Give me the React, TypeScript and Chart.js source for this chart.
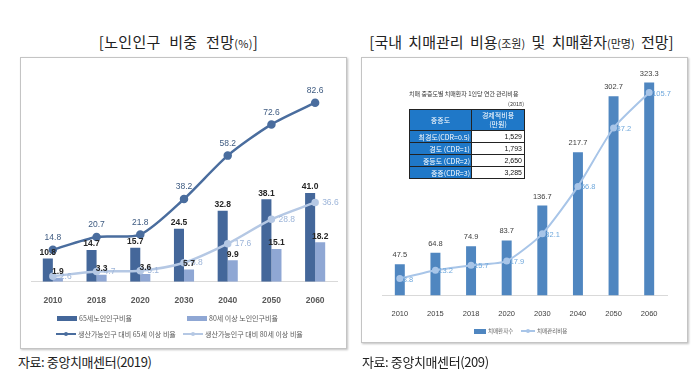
import React, { useEffect, useRef } from "react";
import { Chart, registerables } from "chart.js";

Chart.register(...registerables);

// ---------- Left chart data ----------
const leftYears = ["2010", "2018", "2020", "2030", "2040", "2050", "2060"];
const share65 = [10.8, 14.7, 15.7, 24.5, 32.8, 38.1, 41.0];
const share80 = [1.9, 3.3, 3.6, 5.7, 9.9, 15.1, 18.2];
const ratio65 = [14.8, 20.7, 21.8, 38.2, 58.2, 72.6, 82.6];
const ratio80 = [2.6, 4.7, 5.1, 8.8, 17.6, 28.8, 36.6];
const leftSeriesNames = [
  "65세노인인구비율",
  "80세 이상 노인인구비율",
  "생산가능인구 대비 65세 이상 비율",
  "생산가능인구 대비 80세 이상 비율",
];

// ---------- Right chart data ----------
const rightYears = ["2010", "2015", "2018", "2020", "2030", "2040", "2050", "2060"];
const patients = [47.5, 64.8, 74.9, 83.7, 136.7, 217.7, 302.7, 323.3];
const careCost = [8.8, 13.2, 15.7, 17.9, 32.1, 56.8, 87.2, 105.7];
const rightSeriesNames = ["치매환자수", "치매관리비용"];

// ---------- Inset table ----------
const tableCaption = "치매 중증도별 치매환자 1인당 연간 관리비용";
const tableYear = "(2018)";
const tableHeaders = ["중증도", "경제적비용", "(만원)"];
const severityLabels = ["최경도(CDR=0.5)", "경도 (CDR=1)", "중등도 (CDR=2)", "중증(CDR=3)"];
const severityCosts = ["1,529", "1,793", "2,650", "3,285"];

const KR = "'Noto Sans CJK KR', 'Noto Sans', sans-serif";
const NUM = "'Liberation Sans', 'DejaVu Sans', sans-serif";

const labelPlugin = {
  id: "valueLabels",
  afterDatasetsDraw(chart: any) {
    const ctx = chart.ctx;
    chart.data.datasets.forEach((ds: any, i: number) => {
      const cfg = ds.labelCfg;
      if (!cfg) return;
      const meta = chart.getDatasetMeta(i);
      ctx.save();
      ctx.font = cfg.font;
      ctx.fillStyle = cfg.color;
      ctx.textAlign = cfg.align;
      ctx.textBaseline = "middle";
      meta.data.forEach((el: any, j: number) => {
        const v = ds.data[j];
        ctx.fillText(Number(v).toFixed(1), el.x + cfg.dx, el.y + cfg.dy);
      });
      ctx.restore();
    });
  },
};

const C_DARK_BAR = "#44679a";
const C_LIGHT_BAR = "#8fa7d4";
const C_DARK_LINE = "#4a6d9e";
const C_LIGHT_LINE = "#b5c8e4";
const C_R_BAR = "#4f86c0";
const C_R_LINE = "#a8c5e8";

function LeftChart() {
  const ref = useRef<HTMLCanvasElement>(null);
  useEffect(() => {
    const chart = new Chart(ref.current!, {
      type: "bar",
      data: {
        labels: leftYears,
        datasets: [
          {
            type: "line",
            label: leftSeriesNames[2],
            data: ratio65,
            borderColor: C_DARK_LINE,
            backgroundColor: C_DARK_LINE,
            borderWidth: 2.5,
            pointRadius: 3,
            pointBackgroundColor: C_DARK_LINE,
            tension: 0.25,
            order: 0,
            labelCfg: { font: `8.5px ${NUM}`, color: "#3d5a80", align: "center", dx: 0, dy: -12 },
          } as any,
          {
            type: "line",
            label: leftSeriesNames[3],
            data: ratio80,
            borderColor: C_LIGHT_LINE,
            backgroundColor: C_LIGHT_LINE,
            borderWidth: 2.5,
            pointRadius: 2.5,
            pointBackgroundColor: C_LIGHT_LINE,
            tension: 0.3,
            order: 0,
            labelCfg: { font: `8.5px ${NUM}`, color: "#9db5d9", align: "left", dx: 7, dy: 0 },
          } as any,
          {
            type: "bar",
            label: leftSeriesNames[0],
            data: share65,
            backgroundColor: C_DARK_BAR,
            barPercentage: 1,
            categoryPercentage: 0.46,
            order: 1,
            labelCfg: { font: `bold 8.5px ${NUM}`, color: "#262626", align: "center", dx: 0, dy: -6 },
          } as any,
          {
            type: "bar",
            label: leftSeriesNames[1],
            data: share80,
            backgroundColor: C_LIGHT_BAR,
            barPercentage: 1,
            categoryPercentage: 0.46,
            order: 1,
            labelCfg: { font: `bold 8.5px ${NUM}`, color: "#262626", align: "center", dx: 0, dy: -6 },
          } as any,
        ],
      },
      options: {
        responsive: false,
        animation: false,
        devicePixelRatio: 1,
        layout: { padding: { left: 10, right: 9, top: 7, bottom: 5 } },
        plugins: { legend: { display: false }, tooltip: { enabled: false } },
        scales: {
          x: {
            offset: true,
            grid: { display: false },
            border: { display: true, color: "#d9d9d9" },
            ticks: { padding: 6, color: "#595959", font: { size: 8.5, weight: "bold", family: NUM } },
          },
          y: { display: false, min: 0, max: 100 },
        },
      },
      plugins: [labelPlugin],
    });
    return () => chart.destroy();
  }, []);
  return <canvas ref={ref} width={325} height={259} style={{ position: "absolute", left: 0, top: 0 }} />;
}

function RightChart() {
  const ref = useRef<HTMLCanvasElement>(null);
  useEffect(() => {
    const chart = new Chart(ref.current!, {
      type: "bar",
      data: {
        labels: rightYears,
        datasets: [
          {
            type: "line",
            label: rightSeriesNames[1],
            data: careCost,
            yAxisID: "y1",
            borderColor: C_R_LINE,
            backgroundColor: C_R_LINE,
            borderWidth: 2,
            pointRadius: 2.5,
            pointBackgroundColor: C_R_LINE,
            tension: 0.2,
            order: 0,
            labelCfg: { font: `7.5px ${NUM}`, color: "#6fa8dc", align: "left", dx: 3, dy: 1 },
          } as any,
          {
            type: "bar",
            label: rightSeriesNames[0],
            data: patients,
            yAxisID: "y",
            backgroundColor: C_R_BAR,
            barPercentage: 0.28,
            categoryPercentage: 1,
            order: 1,
            labelCfg: { font: `7.5px ${NUM}`, color: "#404040", align: "center", dx: 0, dy: -9 },
          } as any,
        ],
      },
      options: {
        responsive: false,
        animation: false,
        devicePixelRatio: 1,
        layout: { padding: { left: 20, right: 20, top: 7, bottom: 5.5 } },
        plugins: { legend: { display: false }, tooltip: { enabled: false } },
        scales: {
          x: {
            offset: true,
            grid: { display: false },
            border: { display: true, color: "#d9d9d9" },
            ticks: { padding: 5.5, color: "#404040", font: { size: 7.5, family: NUM } },
          },
          y: { display: false, min: 0, max: 350 },
          y1: { display: false, min: 0, max: 120 },
        },
      },
      plugins: [labelPlugin],
    });
    return () => chart.destroy();
  }, []);
  return <canvas ref={ref} width={325} height={271} style={{ position: "absolute", left: 0, top: 0 }} />;
}

const abs = (left: number, top: number, extra: React.CSSProperties = {}): React.CSSProperties => ({
  position: "absolute",
  left,
  top,
  ...extra,
});

function LegendBox({ x, y, color, w, text, size }: any) {
  return (
    <>
      <div style={abs(x, y - 2.5, { width: w, height: 5, background: color })} />
      <div
        style={abs(x + w + 2, y - 6, {
          fontFamily: KR,
          fontSize: size,
          lineHeight: "12px",
          color: "#595959",
          whiteSpace: "nowrap",
        })}
      >
        {text}
      </div>
    </>
  );
}

function LegendLine({ x, y, color, w, text, size }: any) {
  return (
    <>
      <div style={abs(x, y - 1, { width: w, height: 2, background: color })} />
      <div
        style={abs(x + w / 2 - 2, y - 2, { width: 4, height: 4, borderRadius: 2, background: color })}
      />
      <div
        style={abs(x + w + 2, y - 6, {
          fontFamily: KR,
          fontSize: size,
          lineHeight: "12px",
          color: "#595959",
          whiteSpace: "nowrap",
        })}
      >
        {text}
      </div>
    </>
  );
}

export default function App() {
  const cellBorder = "1px solid #222";
  const blue = "#1f78c8";
  return (
    <div
      style={{
        position: "absolute",
        left: 0,
        top: 0,
        width: 700,
        height: 379,
        background: "#fff",
        overflow: "hidden",
        fontFamily: KR,
      }}
    >
      {/* Titles */}
      <div style={abs(15, 32, { width: 327, textAlign: "center", fontSize: 15, lineHeight: "20px", color: "#222", wordSpacing: 5, letterSpacing: 0.3, whiteSpace: "nowrap" })}>
        [노인인구 비중 전망<span style={{ fontSize: 11 }}>(%)</span>]
      </div>
      <div style={abs(358, 32, { width: 327, textAlign: "center", fontSize: 15, lineHeight: "20px", color: "#222", wordSpacing: 3, letterSpacing: 0, whiteSpace: "nowrap" })}>
        [국내 치매관리 비용<span style={{ fontSize: 11 }}>(조원)</span> 및 치매환자<span style={{ fontSize: 11 }}>(만명)</span> 전망]
      </div>

      {/* Left panel */}
      <div
        style={abs(20, 57, {
          width: 325,
          height: 290,
          border: "1px solid #c4c4c4",
          boxShadow: "1px 1px 2px rgba(0,0,0,0.25)",
          background: "#fff",
        })}
      >
        <LeftChart />
      </div>
      <LegendBox x={57} y={318} w={20} color={C_DARK_BAR} text={leftSeriesNames[0]} size={7} />
      <LegendBox x={187} y={318} w={20} color={C_LIGHT_BAR} text={leftSeriesNames[1]} size={7} />
      <LegendLine x={56} y={334} w={20} color={C_DARK_LINE} text={leftSeriesNames[2]} size={7} />
      <LegendLine x={183} y={334} w={20} color={C_LIGHT_LINE} text={leftSeriesNames[3]} size={7} />

      {/* Right panel */}
      <div
        style={abs(361, 57, {
          width: 325,
          height: 284,
          border: "1px solid #c4c4c4",
          boxShadow: "1px 1px 2px rgba(0,0,0,0.25)",
          background: "#fff",
        })}
      >
        <RightChart />
      </div>
      <LegendBox x={474} y={331} w={12} color={C_R_BAR} text={rightSeriesNames[0]} size={5.5} />
      <LegendLine x={521} y={331} w={14} color={C_R_LINE} text={rightSeriesNames[1]} size={5.5} />

      {/* Inset table */}
      <div style={abs(409, 90, { width: 115, fontSize: 6, lineHeight: "8px", color: "#333", whiteSpace: "nowrap" })}>
        {tableCaption}
      </div>
      <div style={abs(409, 100, { width: 115, textAlign: "right", fontSize: 5.5, lineHeight: "8px", color: "#333" })}>
        {tableYear}
      </div>
      <table
        style={{
          position: "absolute",
          left: 409,
          top: 109,
          borderCollapse: "collapse",
          fontFamily: KR,
          fontSize: 7,
        }}
      >
        <tbody>
          <tr style={{ height: 21 }}>
            <td style={{ width: 61, background: blue, color: "#fff", textAlign: "center", border: cellBorder, padding: 0, lineHeight: "9px" }}>
              {tableHeaders[0]}
            </td>
            <td style={{ width: 52, background: blue, color: "#fff", textAlign: "center", border: cellBorder, padding: 0, lineHeight: "9px" }}>
              {tableHeaders[1]}
              <br />
              {tableHeaders[2]}
            </td>
          </tr>
          {severityLabels.map((s, i) => (
            <tr key={s} style={{ height: 12 }}>
              <td style={{ background: blue, color: "#fff", textAlign: "right", border: cellBorder, padding: "0 1px", lineHeight: "10px", whiteSpace: "nowrap" }}>
                {s}
              </td>
              <td style={{ background: "#fff", color: "#111", textAlign: "right", border: cellBorder, padding: "0 2px", lineHeight: "10px", fontFamily: NUM }}>
                {severityCosts[i]}
              </td>
            </tr>
          ))}
        </tbody>
      </table>

      {/* Sources */}
      <div style={abs(18, 354, { fontSize: 13, lineHeight: "16px", color: "#222", letterSpacing: -0.4, whiteSpace: "nowrap" })}>
        자료: 중앙치매센터(2019)
      </div>
      <div style={abs(362, 354, { fontSize: 13, lineHeight: "16px", color: "#222", letterSpacing: -0.4, whiteSpace: "nowrap" })}>
        자료: 중앙치매센터(209)
      </div>
    </div>
  );
}
